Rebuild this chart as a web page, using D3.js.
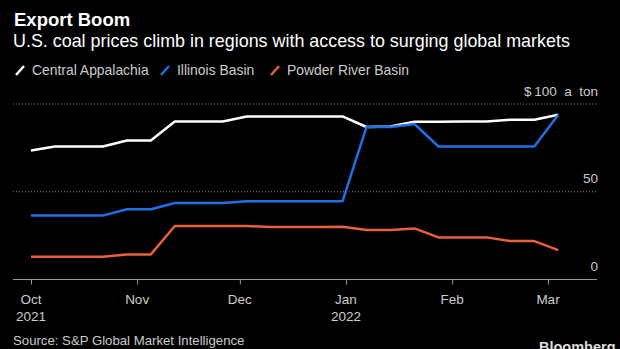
<!DOCTYPE html>
<html>
<head>
<meta charset="utf-8">
<script src="https://cdn.jsdelivr.net/npm/d3@7"></script>
<style>
  body { margin: 0; background: #000; }
  svg { display: block; font-family: "Liberation Sans", Arial, sans-serif; }
</style>
</head>
<body>
<div id="chart"></div>
<script>
// weekly prices, $ a ton
let weeks = ['2021-10-01','2021-10-08','2021-10-15','2021-10-22','2021-10-29','2021-11-05','2021-11-12','2021-11-19','2021-11-26',
             '2021-12-03','2021-12-10','2021-12-17','2021-12-24','2021-12-31','2022-01-07','2022-01-14','2022-01-21','2022-01-28',
             '2022-02-04','2022-02-11','2022-02-18','2022-02-25','2022-03-04'];
let centralAppalachia = [73.5, 75.8, 75.8, 75.8, 79.2, 79.2, 90, 90, 90, 92.9, 92.9, 92.9, 92.9, 92.9, 86.9, 87.2, 89.9, 89.9, 90, 90, 91, 91, 93.9];
let illinoisBasin = [36.4, 36.4, 36.4, 36.4, 40, 40, 43.6, 43.6, 43.6, 44.6, 44.6, 44.6, 44.6, 44.6, 86.9, 86.9, 88.6, 75.8, 75.8, 75.8, 75.8, 75.8, 93.9];
let powderRiver = [12.9, 12.9, 12.9, 12.9, 14.3, 14.3, 30.5, 30.5, 30.5, 30.5, 29.9, 29.9, 29.9, 30, 28.2, 28.2, 29.1, 24, 24, 24, 21.9, 21.9, 16.7];
let seriesNames = ['Central Appalachia', 'Illinois Basin', 'Powder River Basin'];
let seriesColors = ['#ffffff', '#1f6fe5', '#e8603c'];
let yTicks = [0, 50, 100];
let xTicks = ['2021-10-01','2021-11-01','2021-12-01','2022-01-01','2022-02-01','2022-03-01'];

let width = 620, height = 349;
let parse = d3.timeParse('%Y-%m-%d');

let svg = d3.select('#chart').append('svg')
    .attr('width', width)
    .attr('height', height);

svg.append('rect').attr('width', width).attr('height', height).attr('fill', '#000');

// titles
svg.append('text')
    .attr('x', 14).attr('y', 26)
    .attr('fill', '#fff')
    .attr('font-size', 18.5)
    .attr('font-weight', 'bold')
    .text('Export Boom');
svg.append('text')
    .attr('x', 13).attr('y', 46.5)
    .attr('fill', '#fff')
    .attr('font-size', 17.9)
    .text('U.S. coal prices climb in regions with access to surging global markets');

// legend
let legendX = [15, 160, 270];
let legend = svg.append('g').selectAll('g').data(seriesNames).enter().append('g')
    .attr('transform', (d, i) => 'translate(' + legendX[i] + ',0)');
legend.append('line')
    .attr('x1', 1).attr('y1', 75).attr('x2', 9).attr('y2', 66)
    .attr('stroke', (d, i) => seriesColors[i])
    .attr('stroke-width', 2.5);
legend.append('text')
    .attr('x', 17).attr('y', 75)
    .attr('fill', '#ccc')
    .attr('font-size', 13.9)
    .text(d => d);

// scales
let x = d3.scaleTime()
    .domain([parse('2021-10-01'), parse('2022-03-01')])
    .range([31, 548]);
let y = d3.scaleLinear()
    .domain([0, 100])
    .range([279.5, 104]);

// grid lines
svg.append('g').selectAll('line').data(yTicks.filter(d => d > 0)).enter().append('line')
    .attr('x1', 13).attr('x2', 597)
    .attr('y1', d => y(d)).attr('y2', d => y(d))
    .attr('stroke', '#888')
    .attr('stroke-width', 1)
    .attr('stroke-dasharray', '1,2');

svg.append('g').selectAll('text').data(yTicks).enter().append('text')
    .attr('x', 598)
    .attr('y', d => y(d) - 8.5)
    .attr('text-anchor', 'end')
    .attr('fill', '#ccc')
    .attr('font-size', 13.5)
    .text(d => d == 100 ? '$\u2009100  a  ton' : d)
    .style('white-space', 'pre');

// x axis
let xAxis = d3.axisBottom(x)
    .tickValues(xTicks.map(parse))
    .tickSize(5)
    .tickPadding(0)
    .tickFormat(() => '');
let gx = svg.append('g')
    .attr('transform', 'translate(0,' + y(0) + ')')
    .call(xAxis);
gx.select('.domain').attr('d', 'M13,0H597').attr('stroke', '#999');
gx.selectAll('.tick line').attr('stroke', '#999');

let tickLabels = svg.append('g').selectAll('text').data(xTicks).enter().append('text')
    .attr('x', d => x(parse(d)))
    .attr('text-anchor', 'middle')
    .attr('fill', '#ccc')
    .attr('font-size', 13.5);
tickLabels.append('tspan')
    .attr('x', d => x(parse(d)))
    .attr('y', 303.5)
    .text(d => d3.timeFormat('%b')(parse(d)));
tickLabels.append('tspan')
    .attr('x', d => x(parse(d)))
    .attr('y', 321)
    .text(d => parse(d).getMonth() == 0 || d == xTicks[0] ? d3.timeFormat('%Y')(parse(d)) : '');

// lines
let line = d3.line()
    .x((d, i) => x(parse(weeks[i])))
    .y(d => y(d));
let allSeries = [centralAppalachia, illinoisBasin, powderRiver];
// draw orange, then white, blue on top
[2, 0, 1].forEach(i => {
    svg.append('path')
        .datum(allSeries[i])
        .attr('d', line)
        .attr('fill', 'none')
        .attr('stroke', seriesColors[i])
        .attr('stroke-width', 2.5)
        .attr('stroke-linejoin', 'round');
});

// footer
svg.append('text')
    .attr('x', 13).attr('y', 345)
    .attr('fill', '#ccc')
    .attr('font-size', 13.2)
    .text('Source: S&P Global Market Intelligence');
svg.append('text')
    .attr('x', 539).attr('y', 352)
    .attr('fill', '#ddd')
    .attr('font-size', 14.5)
    .attr('font-weight', 'bold')
    .text('Bloomberg');
</script>
</body>
</html>
